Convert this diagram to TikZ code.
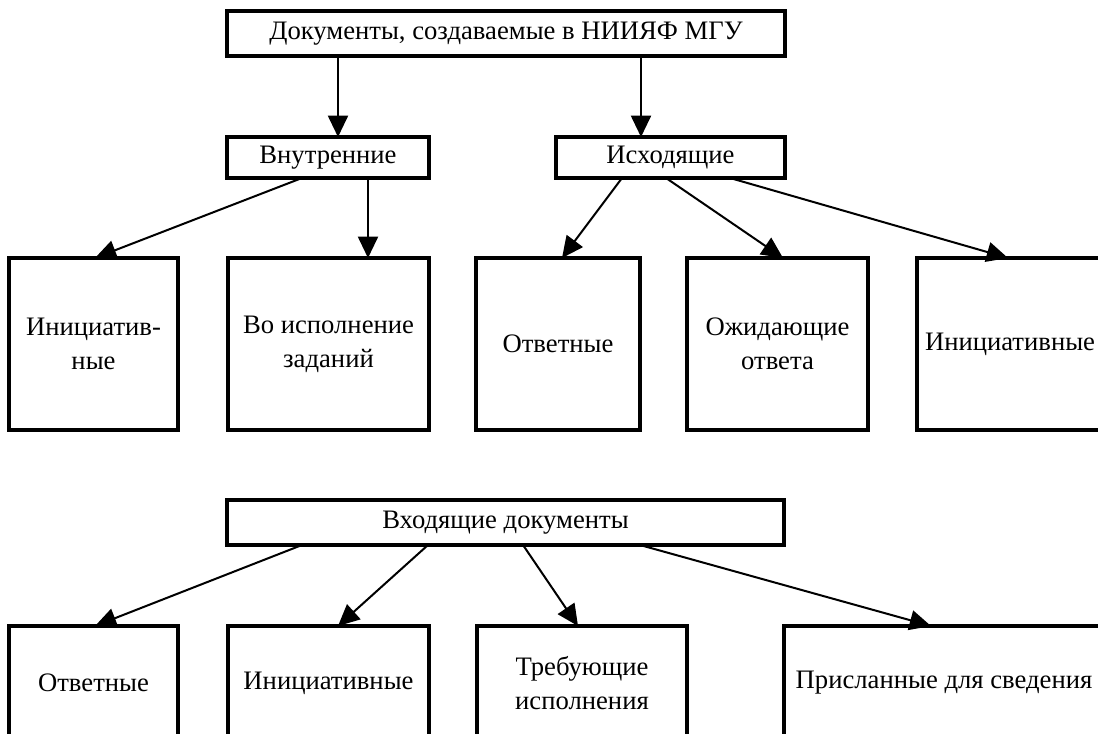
\documentclass[tikz,border=0pt]{standalone}
\usepackage{fontspec}
\setmainfont{Liberation Serif}
\usetikzlibrary{arrows.meta,calc}
\newcommand\px{0.75pt}
\begin{document}
\begin{tikzpicture}[x=0.75pt,y=-0.75pt,
  box/.style={draw,line width=2.5pt,rectangle,inner sep=0pt,outer sep=0pt,
    align=center,font=\fontsize{20}{25.5}\selectfont},
  arr/.style={line width=1.5pt,-{Triangle[length=16pt,width=15pt]}}]
\useasboundingbox (0,0) rectangle (1098,734);
% level 0
\node[box,minimum width=558*\px,minimum height=45*\px] (top) at (506,33.5) {Документы, создаваемые в НИИЯФ МГУ};
% level 1
\node[box,minimum width=202*\px,minimum height=41*\px] (vn) at (328,157.5) {Внутренние};
\node[box,minimum width=229*\px,minimum height=41*\px] (ish) at (670.5,157.5) {Исходящие};
% row 1
\node[box,minimum width=169*\px,minimum height=172*\px] (a1) at (93.5,344) {Инициатив-\\ные};
\node[box,minimum width=201*\px,minimum height=172*\px] (a2) at (328.5,344) {Во исполнение\\заданий};
\node[box,minimum width=164*\px,minimum height=172*\px] (b1) at (558,344) {Ответные};
\node[box,minimum width=181*\px,minimum height=172*\px] (b2) at (777.5,344) {Ожидающие\\ответа};
\node[box,minimum width=186*\px,minimum height=172*\px] (b3) at (1010,344) {Инициативные};
% incoming
\node[box,minimum width=557*\px,minimum height=45*\px] (vh) at (505.5,522.5) {Входящие документы};
\node[box,minimum width=169*\px,minimum height=114*\px] (c1) at (93.5,683) {Ответные};
\node[box,minimum width=201*\px,minimum height=114*\px] (c2) at (328.5,683) {Инициативные};
\node[box,minimum width=210*\px,minimum height=114*\px] (c3) at (582,683) {Требующие\\исполнения};
\node[box,minimum width=320*\px,minimum height=114*\px] (c4) at (944,683) {Присланные для сведения};
% connectors
\draw[arr] ($(top.south west)+(111,0)$) -- ($(vn.north west)+(111,0)$);
\draw[arr] ($(top.south west)+(414,0)$) -- ($(ish.north west)+(85,0)$);
\draw[arr] ($(vn.south west)+(75,0)$) -- ($(a1.north west)+(86,0)$);
\draw[arr] ($(vn.south west)+(141,0)$) -- ($(a2.north west)+(140,0)$);
\draw[arr] ($(ish.south west)+(66,0)$) -- ($(b1.north west)+(86,0)$);
\draw[arr] ($(ish.south west)+(110,0)$) -- ($(b2.north west)+(96,0)$);
\draw[arr] ($(ish.south west)+(174,0)$) -- ($(b3.north west)+(91,0)$);
\draw[arr] ($(vh.south west)+(75,0)$) -- ($(c1.north west)+(86,0)$);
\draw[arr] ($(vh.south west)+(201,0)$) -- ($(c2.north west)+(110,0)$);
\draw[arr] ($(vh.south west)+(296,0)$) -- ($(c3.north west)+(101,0)$);
\draw[arr] ($(vh.south west)+(413,0)$) -- ($(c4.north west)+(147,0)$);
\end{tikzpicture}
\end{document}
